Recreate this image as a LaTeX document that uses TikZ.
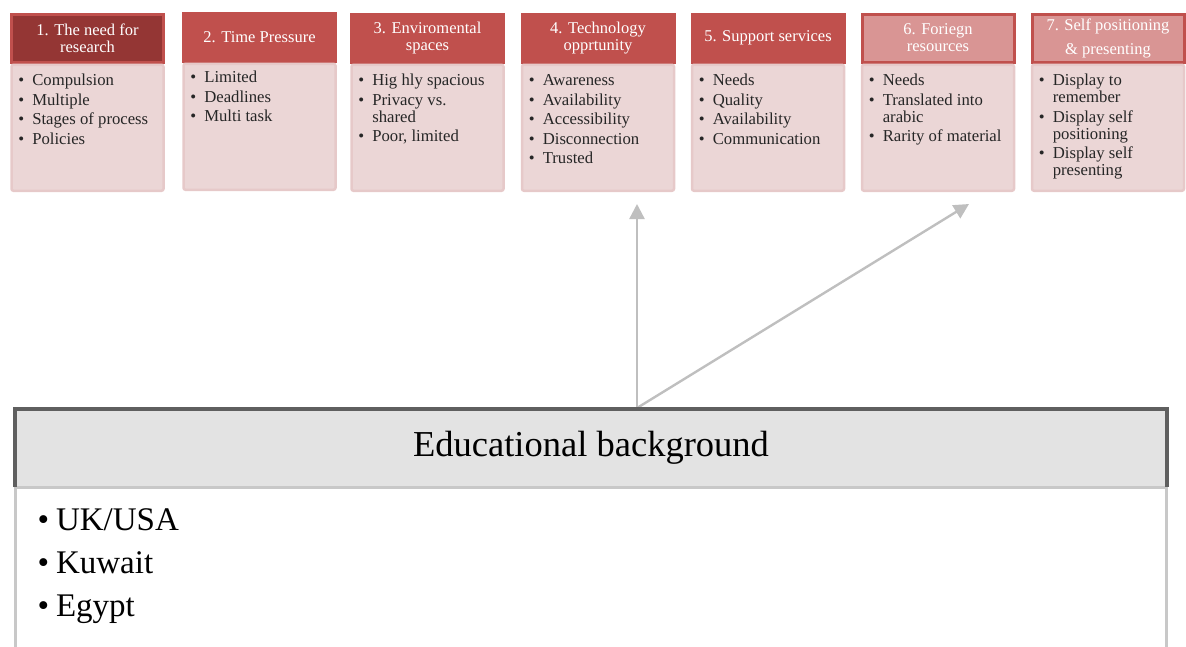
\documentclass[tikz,border=0pt]{standalone}
\usepackage{fontspec}
\setmainfont{Liberation Serif}
\usepackage{xcolor}
\usetikzlibrary{arrows.meta,positioning}

\definecolor{boxred}{HTML}{C0504D}
\definecolor{deepred}{HTML}{943634}
\definecolor{softred}{HTML}{D99594}
\definecolor{bodypink}{HTML}{EBD6D6}
\definecolor{bodyline}{HTML}{E6C9C9}
\definecolor{headgray}{HTML}{E3E3E3}
\definecolor{darkrule}{HTML}{5F5F5F}
\definecolor{lightrule}{HTML}{C8C8C8}
\definecolor{arrowgray}{HTML}{BFBFBF}
\definecolor{inktext}{HTML}{262626}

\begin{document}
\begin{tikzpicture}[x=1pt, y=-1pt,
% Style for the title bars of the seven factors
head/.style={
rectangle,
draw=boxred,
fill=boxred,
line width=3pt,
minimum width=152pt,
minimum height=48pt,
inner sep=0pt,
text=white,
align=center,
font=\fontsize{16.5}{17}\selectfont
},
% Style for the pink boxes under the title bars
body/.style={
rectangle,
rounded corners=2pt,
draw=bodyline,
fill=bodypink,
line width=2.5pt,
minimum width=152pt,
minimum height=126pt,
inner sep=0pt
},
% Style for the bullet lists
items/.style={
anchor=north west,
inner sep=0pt,
text=inktext,
font=\fontsize{16.7}{17}\selectfont
},
% Style for the grey arrows
link/.style={
draw=arrowgray,
line width=2.4pt,
-{Triangle[length=15pt,width=15pt]}
}
]
\useasboundingbox (0,0) rectangle (1186,646);

% Arrows from the educational background (drawn first, under the box)
\coordinate (root) at (637,408);
\coordinate (tip4) at (637,204);
\coordinate (tip6) at (969,204);
\draw[link] (root) -- (tip4);
\draw[link] (root) -- (tip6);

% Title bars
\node[head, fill=deepred] (h1) at (87.5,38) {1. The need for\\research};
\node[head] (h2) at (259.5,37) {2. Time Pressure};
\node[head] (h3) at (427.5,38) {3. Enviromental\\spaces};
\node[head] (h4) at (598,38) {4. Technology\\opprtunity};
\node[head] (h5) at (768,38) {5. Support services};
\node[head, fill=softred] (h6) at (938,38) {6. Foriegn\\resources};
\node[head, fill=softred] (h7) at (1108,38) {7. Self positioning\\[7pt]\& presenting};

% Pink boxes under each title bar
\foreach \i in {1,...,7} {
\node[body, below=0pt of h\i] (b\i) {};
}

% Bullet lists
\node[items] (t1) at ([xshift=8pt,yshift=-10pt]b1.north west) {\begin{tabular}{@{}l@{\hspace{8pt}}l@{}}
\textbullet & Compulsion\\[2.5pt]
\textbullet & Multiple\\[2.5pt]
\textbullet & Stages of process\\[2.5pt]
\textbullet & Policies
\end{tabular}};
\node[items] (t2) at ([xshift=8pt,yshift=-8pt]b2.north west) {\begin{tabular}{@{}l@{\hspace{8pt}}l@{}}
\textbullet & Limited\\[2.5pt]
\textbullet & Deadlines\\[2.5pt]
\textbullet & Multi task
\end{tabular}};
\node[items] (t3) at ([xshift=8pt,yshift=-10pt]b3.north west) {\begin{tabular}{@{}l@{\hspace{8pt}}l@{}}
\textbullet & Hig hly spacious\\[2.5pt]
\textbullet & Privacy vs.\\
& shared\\[2.5pt]
\textbullet & Poor, limited
\end{tabular}};
\node[items] (t4) at ([xshift=8pt,yshift=-10pt]b4.north west) {\begin{tabular}{@{}l@{\hspace{8pt}}l@{}}
\textbullet & Awareness\\[2.5pt]
\textbullet & Availability\\[2.5pt]
\textbullet & Accessibility\\[2.5pt]
\textbullet & Disconnection\\[2.5pt]
\textbullet & Trusted
\end{tabular}};
\node[items] (t5) at ([xshift=8pt,yshift=-10pt]b5.north west) {\begin{tabular}{@{}l@{\hspace{8pt}}l@{}}
\textbullet & Needs\\[2.5pt]
\textbullet & Quality\\[2.5pt]
\textbullet & Availability\\[2.5pt]
\textbullet & Communication
\end{tabular}};
\node[items] (t6) at ([xshift=8pt,yshift=-10pt]b6.north west) {\begin{tabular}{@{}l@{\hspace{8pt}}l@{}}
\textbullet & Needs\\[2.5pt]
\textbullet & Translated into\\
& arabic\\[2.5pt]
\textbullet & Rarity of material
\end{tabular}};
\node[items] (t7) at ([xshift=8pt,yshift=-10pt]b7.north west) {\begin{tabular}{@{}l@{\hspace{8pt}}l@{}}
\textbullet & Display to\\
& remember\\[2.5pt]
\textbullet & Display self\\
& positioning\\[2.5pt]
\textbullet & Display self\\
& presenting
\end{tabular}};

% Educational background box
\node[fill=headgray, minimum width=1151pt, minimum height=78pt, inner sep=0pt,
font=\fontsize{36.5}{40}\selectfont, text=black] (edu) at (591,448) {Educational background};
\node[fill=white, minimum width=1151pt, minimum height=170pt, inner sep=0pt,
below=0pt of edu] (edubody) {};
\draw[lightrule, line width=3pt] (edubody.south west) -- (edubody.north west) -- (edubody.north east) -- (edubody.south east);
\draw[darkrule, line width=4pt] (edu.south west) -- (edu.north west) -- (edu.north east) -- (edu.south east);
\node[anchor=north west, inner sep=0pt, font=\fontsize{33}{43}\selectfont, text=black] (edulist)
at ([xshift=22pt,yshift=-13pt]edubody.north west) {\begin{tabular}{@{}l@{\hspace{7pt}}l@{}}
\textbullet & UK/USA\\
\textbullet & Kuwait\\
\textbullet & Egypt
\end{tabular}};

\end{tikzpicture}
\end{document}
